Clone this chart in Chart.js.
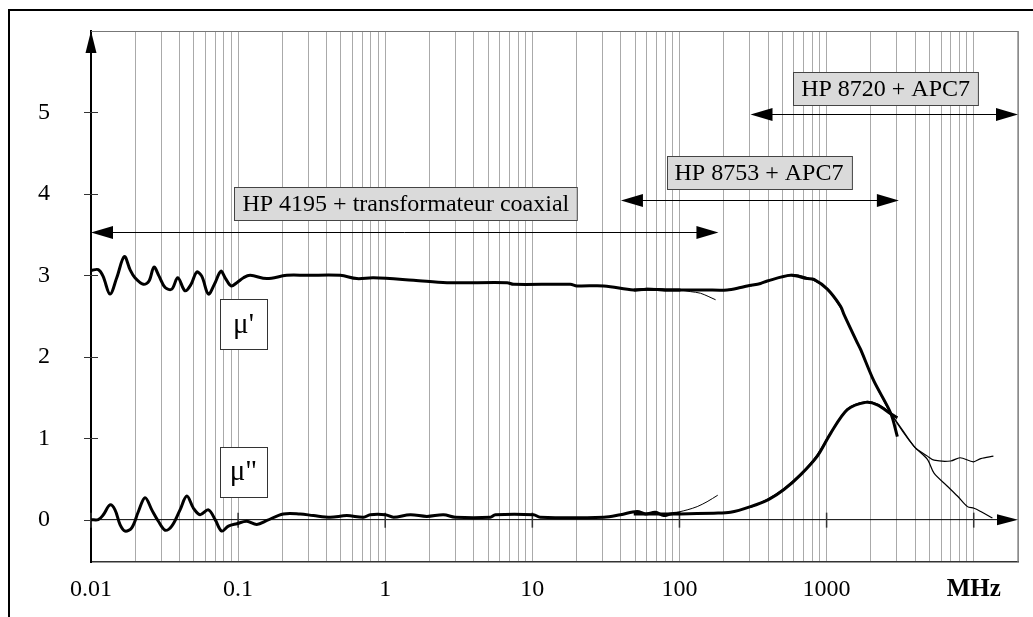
<!DOCTYPE html>
<html>
<head>
<meta charset="utf-8">
<script src="https://cdn.jsdelivr.net/npm/chart.js@4.4.0/dist/chart.umd.min.js"></script>
<style>
body{margin:0;background:#fff;}
#wrap{width:1033px;height:617px;}
</style>
</head>
<body>
<div id="wrap"><canvas id="Plot" width="1033" height="617"></canvas></div>
<script>
// frequencies in MHz, permeability values
var mu1LowF = [0.01,0.0112,0.01207,0.01346,0.01496,0.01685,0.01842,0.0199,0.0227,0.0248,0.0268,0.0290,0.0319,0.0354,0.0389,0.0436,0.0479,0.0523,0.0566,0.0628,0.0690,0.0763,0.0816,0.0896,0.098,0.1087,0.1208,0.1567,0.214,0.293,0.494,0.641,0.832,1.56,2.63,6.73,7.46,18.1,20.1,30.6,48.9,60.3,80,101.6];
var mu1LowV = [3.06,3.07,2.99,2.77,2.97,3.23,3.07,2.97,2.89,2.93,3.10,2.99,2.85,2.83,2.97,2.81,2.89,3.04,2.99,2.77,2.89,3.05,2.97,2.87,2.91,2.97,3.0,2.96,3.0,3.0,3.0,2.96,2.97,2.94,2.91,2.91,2.89,2.89,2.87,2.87,2.82,2.83,2.82,2.82];
var mu1TailF = [101.6,119,139,176];
var mu1TailV = [2.82,2.80,2.78,2.70];
var mu1MidF = [48.9,60.3,80,101.6,150,211,260,289,356,395,569,739,820,1012,1245,1312,1618,1703,2099,2725,3027];
var mu1MidV = [2.82,2.83,2.82,2.82,2.82,2.82,2.85,2.87,2.90,2.93,3.0,2.96,2.95,2.83,2.62,2.52,2.17,2.09,1.70,1.31,1.02];
var mu1HighF = [304,400,569,650,739,900,1012,1245,1618,2099,2725,3929,4845,5373,6978,8074,9955,11160,13610];
var mu1HighV = [2.87,2.93,3.01,3.0,2.97,2.9,2.83,2.60,2.17,1.70,1.31,0.90,0.78,0.73,0.72,0.76,0.71,0.75,0.78];

var mu2LowF = [0.01,0.0112,0.01213,0.01346,0.01456,0.01575,0.01703,0.01892,0.0210,0.0233,0.0259,0.0287,0.0319,0.0354,0.0403,0.0448,0.0497,0.0551,0.0628,0.0698,0.0774,0.0859,0.098,0.1146,0.134,0.157,0.203,0.264,0.325,0.423,0.548,0.712,0.791,1.0,1.138,1.48,1.92,2.49,2.99,5.18,5.60,10.2,11.3,30.6,39.7,51.5,58.7,68.7,78.2,86.9,101.6];
var mu2LowV = [0,0,0.06,0.18,0.12,-0.06,-0.14,-0.10,0.10,0.27,0.12,-0.02,-0.13,-0.08,0.12,0.29,0.14,0.06,0.12,0.0,-0.14,-0.08,-0.05,-0.02,-0.06,-0.01,0.07,0.07,0.05,0.03,0.05,0.03,0.06,0.06,0.03,0.06,0.04,0.06,0.03,0.03,0.06,0.06,0.03,0.03,0.06,0.10,0.07,0.09,0.05,0.07,0.08];
var mu2TailF = [86.9,112.8,132,154,182];
var mu2TailV = [0.07,0.12,0.16,0.22,0.30];
var mu2MidF = [48.9,58.7,78.2,101.6,171,222,304,405,513,665,865,1065,1383,1842,2213,2725,3027];
var mu2MidV = [0.07,0.07,0.07,0.07,0.08,0.09,0.16,0.25,0.37,0.55,0.78,1.06,1.35,1.44,1.41,1.30,1.25];
var mu2HighF = [304,405,513,665,865,1065,1383,1842,2213,2725,3929,4845,5373,6622,7750,9063,10050,11160,13400];
var mu2HighV = [0.15,0.26,0.38,0.56,0.80,1.07,1.36,1.45,1.42,1.30,0.90,0.74,0.57,0.41,0.29,0.16,0.14,0.10,0.02];

// axes
var xDecades = [0.01,0.1,1,10,100,1000,10000];
var xTickLabels = ['0.01','0.1','1','10','100','1000','MHz'];
var xGridMult = [1,2,3,4,5,6,7,8,9];
var yTicks = [0,1,2,3,4,5];

// measurement ranges
var rangeNames = ['HP 4195 + transformateur coaxial','HP 8753 + APC7','HP 8720 + APC7'];
var rangeFrom = [0.01,40,304];
var rangeTo = [184,3100,20000];
var rangeLevel = [3.53,3.93,4.975];
var rangeLabelF = [1.38,347,2518];
var rangeLabelV = [3.88,4.26,5.29];

var curveNames = ["\u03bc'", '\u03bc"'];
var curveLabelF = [0.1088,0.1088];
var curveLabelV = [2.40,0.59];

var FONT = "'Liberation Serif', 'Times New Roman', serif";

function pairs(f, v){
  var arr = [];
  for (var i = 0; i < f.length; i++){
    arr.push({x: f[i], y: v[i]});
  }
  return arr;
}
function line(f, v, w, t){
  return {data: pairs(f, v), borderColor: 'black', borderWidth: w, pointRadius: 0, tension: t, fill: false};
}

var xGrid = [];
xDecades.forEach(function(d){ xGridMult.forEach(function(m){ xGrid.push(d*m); }); });
xGrid.push(20000);

function head(c, x, y, dir, len, half){
  c.beginPath();
  if (dir == 'right'){ c.moveTo(x,y); c.lineTo(x-len,y-half); c.lineTo(x-len,y+half); }
  else if (dir == 'left'){ c.moveTo(x,y); c.lineTo(x+len,y-half); c.lineTo(x+len,y+half); }
  else { c.moveTo(x,y); c.lineTo(x-half,y+len); c.lineTo(x+half,y+len); }
  c.closePath();
  c.fill();
}

var decor = {
  id: 'decor',
  beforeDatasetsDraw: function(chart){
    var c = chart.ctx, a = chart.chartArea, xs = chart.scales.x, ys = chart.scales.y;
    c.save();
    // frame
    c.strokeStyle = 'black'; c.lineWidth = 2;
    c.beginPath(); c.moveTo(9,617); c.lineTo(9,10); c.lineTo(1033,10); c.stroke();
    // top and right border of plot
    c.strokeStyle = '#777'; c.lineWidth = 1.2;
    c.beginPath(); c.moveTo(a.left,a.top+0.5); c.lineTo(a.right,a.top+0.5); c.lineTo(a.right,a.bottom); c.stroke();
    // zero line
    var y0 = ys.getPixelForValue(0);
    c.strokeStyle = 'black'; c.lineWidth = 1;
    c.beginPath(); c.moveTo(a.left,y0); c.lineTo(a.right-15,y0); c.stroke();
    c.fillStyle = 'black';
    head(c, a.right, y0, 'right', 21, 5.5);
    // decade ticks
    c.strokeStyle = '#333'; c.lineWidth = 1.5;
    xDecades.forEach(function(d){
      var px = xs.getPixelForValue(d);
      c.beginPath(); c.moveTo(px,y0-7); c.lineTo(px,y0+8); c.stroke();
    });
    // y ticks
    c.lineWidth = 1;
    yTicks.forEach(function(v){
      var py = Math.round(ys.getPixelForValue(v)) + 0.5;
      c.beginPath(); c.moveTo(a.left-7,py); c.lineTo(a.left+7,py); c.stroke();
    });
    // y arrow
    c.fillStyle = 'black';
    head(c, a.left, a.top, 'up', 22, 5.5);
    c.restore();
  },
  afterDatasetsDraw: function(chart){
    var c = chart.ctx, xs = chart.scales.x, ys = chart.scales.y;
    c.save();
    c.font = '24px ' + FONT;
    c.textAlign = 'center'; c.textBaseline = 'middle';
    for (var i = 0; i < rangeNames.length; i++){
      var x1 = xs.getPixelForValue(rangeFrom[i]), x2 = xs.getPixelForValue(rangeTo[i]);
      var py = Math.round(ys.getPixelForValue(rangeLevel[i])) + 0.5;
      c.strokeStyle = 'black'; c.lineWidth = 1; c.fillStyle = 'black';
      c.beginPath(); c.moveTo(x1+10,py); c.lineTo(x2-10,py); c.stroke();
      head(c, x1, py, 'left', 22, 6.5);
      head(c, x2, py, 'right', 22, 6.5);
      var cx = xs.getPixelForValue(rangeLabelF[i]), cy = ys.getPixelForValue(rangeLabelV[i]);
      var w = c.measureText(rangeNames[i]).width + 16, h = 33;
      var bx = Math.round(cx - w/2) + 0.5, by = Math.round(cy - h/2) + 0.5;
      c.fillStyle = '#dadada'; c.fillRect(bx, by, w, h);
      c.strokeStyle = '#444'; c.strokeRect(bx, by, w, h);
      c.fillStyle = 'black';
      c.fillText(rangeNames[i], cx, cy + 1);
    }
    c.font = '29px ' + FONT;
    for (var j = 0; j < curveNames.length; j++){
      var lx = xs.getPixelForValue(curveLabelF[j]), ly = ys.getPixelForValue(curveLabelV[j]);
      var bx2 = Math.round(lx - 23.5) + 0.5, by2 = Math.round(ly - 25) + 0.5;
      c.fillStyle = 'white'; c.fillRect(bx2, by2, 47, 50);
      c.strokeStyle = '#333'; c.lineWidth = 1; c.strokeRect(bx2, by2, 47, 50);
      c.fillStyle = 'black';
      c.fillText(curveNames[j], lx, ly + 1);
    }
    c.restore();
  }
};

var ctx = document.getElementById('Plot').getContext('2d');
var myChart = new Chart(ctx, {
  type: 'line',
  data: {
    datasets: [
      line(mu1LowF, mu1LowV, 3, 0.35),
      line(mu1TailF, mu1TailV, 1, 0.3),
      line(mu1MidF, mu1MidV, 3, 0.3),
      line(mu1HighF, mu1HighV, 1.2, 0.3),
      line(mu2LowF, mu2LowV, 3, 0.35),
      line(mu2TailF, mu2TailV, 1, 0.3),
      line(mu2MidF, mu2MidV, 3, 0.3),
      line(mu2HighF, mu2HighV, 1.2, 0.3)
    ]
  },
  options: {
    responsive: false,
    animation: false,
    layout: {padding: {left: 38, top: 31, right: 15, bottom: 0}},
    plugins: {legend: {display: false}, tooltip: {enabled: false}},
    scales: {
      x: {
        type: 'logarithmic',
        min: 0.01,
        max: 20000,
        afterBuildTicks: function(s){ s.ticks = xGrid.map(function(v){ return {value: v}; }); },
        afterFit: function(s){ s.height = 55; },
        grid: {color: '#aaa', lineWidth: 1, drawTicks: false},
        border: {color: '#333', width: 1.5},
        ticks: {
          autoSkip: false, maxRotation: 0, padding: 13, color: 'black',
          font: function(c){
            var bold = c.tick && Math.abs(c.tick.value - 10000) < 1;
            return {family: FONT, size: bold ? 25 : 24, weight: bold ? 'bold' : 'normal'};
          },
          callback: function(value){
            for (var i = 0; i < xDecades.length; i++){
              if (Math.abs(Math.log10(value) - Math.log10(xDecades[i])) < 1e-6) return xTickLabels[i];
            }
            return '';
          }
        }
      },
      y: {
        type: 'linear',
        min: -0.52,
        max: 6.0,
        afterBuildTicks: function(s){ s.ticks = yTicks.map(function(v){ return {value: v}; }); },
        afterFit: function(s){ s.width = 53; },
        grid: {display: false, drawTicks: false},
        border: {color: 'black', width: 2},
        ticks: {padding: 0, crossAlign: 'far', color: 'black', font: {family: FONT, size: 24}}
      }
    }
  },
  plugins: [decor]
});
</script>
</body>
</html>
